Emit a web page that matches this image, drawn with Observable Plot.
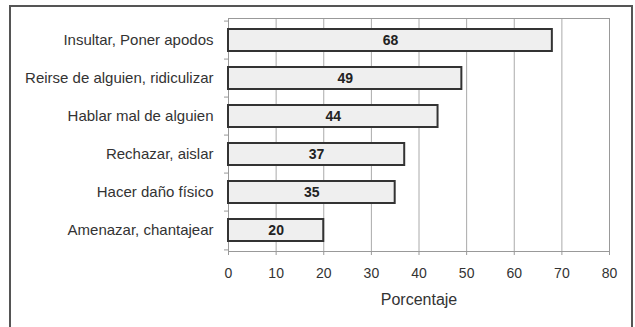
<!DOCTYPE html>
<html>
<head>
<meta charset="utf-8">
<script src="https://cdn.jsdelivr.net/npm/d3@7"></script>
<script src="https://cdn.jsdelivr.net/npm/@observablehq/plot@0.6"></script>
<style>
  html, body { margin: 0; padding: 0; background: #fff; }
  #wrap { position: relative; width: 635px; height: 327px; overflow: hidden; }
  #box { position: absolute; left: 9px; top: 5px; width: 620px; height: 340px;
         border: 2px solid #555; border-bottom: none; pointer-events: none; }
  svg { font-family: "Liberation Sans", Arial, sans-serif; }
</style>
</head>
<body>
<div id="wrap"><div id="box"></div></div>
<script>
// Forms of bullying reported, share of respondents (%)
const categories = [
  "Insultar, Poner apodos",
  "Reirse de alguien, ridiculizar",
  "Hablar mal de alguien",
  "Rechazar, aislar",
  "Hacer daño físico",
  "Amenazar, chantajear"
];
const values = [68, 49, 44, 37, 35, 20];
const xTicks = [0, 10, 20, 30, 40, 50, 60, 70, 80];
const xLabel = "Porcentaje";

const data = categories.map((c, i) => ({category: c, value: values[i]}));

const marginTop = 18, marginBottom = 76, height = 327;
const step = (height - marginTop - marginBottom) / categories.length;

const chart = Plot.plot({
  width: 635,
  height,
  marginLeft: 228,
  marginRight: 26,
  marginTop,
  marginBottom,
  style: {background: "transparent", color: "#333"},
  x: {domain: [0, 80], ticks: xTicks},
  y: {domain: categories, paddingInner: 0.43, paddingOuter: 0.215},
  marks: [
    Plot.gridX(xTicks, {stroke: "#aaa", strokeOpacity: 1}),
    Plot.frame({stroke: "#999"}),
    // short ticks on the category axis, at the band boundaries
    Plot.ruleY(categories, {y: d => d, x1: 0, x2: 0, insetLeft: -4, dy: -step / 2, stroke: "#999"}),
    Plot.ruleY(categories.slice(-1), {y: d => d, x1: 0, x2: 0, insetLeft: -4, dy: step / 2, stroke: "#999"}),
    Plot.barX(data, {x: "value", y: "category", fill: "#efefef", stroke: "#333", strokeWidth: 2}),
    Plot.text(data, {x: d => d.value / 2, y: "category", text: d => String(d.value),
      fontWeight: "bold", fontSize: 14, fill: "#222"}),
    Plot.axisY({tickSize: 0, tickPadding: 15, fontSize: 15, fill: "#333", label: null}),
    Plot.axisX(xTicks, {tickSize: 4, tickPadding: 13, fontSize: 14, fill: "#333", stroke: "#999", label: null}),
    Plot.text([xLabel], {frameAnchor: "bottom", dy: 53, fontSize: 16, fill: "#333", text: d => d})
  ]
});
document.getElementById("wrap").prepend(chart);
</script>
</body>
</html>
